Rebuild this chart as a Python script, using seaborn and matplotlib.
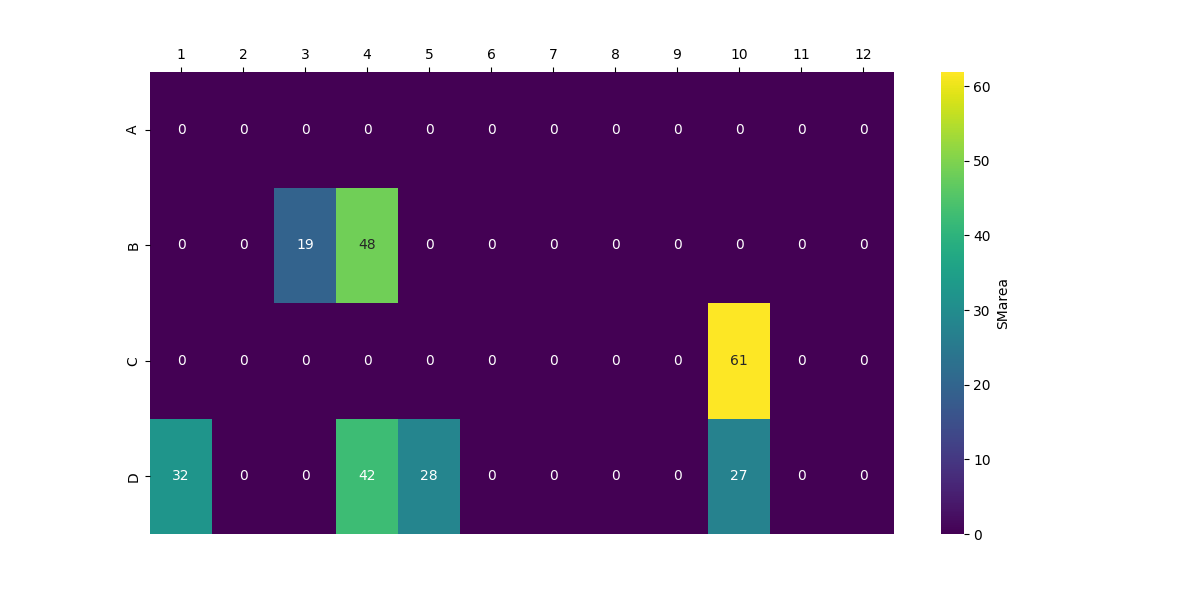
import seaborn as sns
import matplotlib
matplotlib.use("Agg")
import matplotlib.pyplot as plt
import pandas as pd

rows = ['A', 'B', 'C', 'D']
cols = list(range(1, 13))
row_a = [0, 0, 0, 0, 0, 0, 0, 0, 0, 0, 0, 0]
row_b = [0, 0, 19.4, 48.6, 0, 0, 0, 0, 0, 0, 0, 0]
row_c = [0, 0, 0, 0, 0, 0, 0, 0, 0, 61.9, 0, 0]
row_d = [32.3, 0, 0, 42.5, 28.2, 0, 0, 0, 0, 27.4, 0, 0]

df = pd.DataFrame([row_a, row_b, row_c, row_d], index=rows, columns=cols)
labels = df.astype(int)

fig, ax = plt.subplots(figsize=(12, 6), dpi=100)
sns.heatmap(df, ax=ax, cmap='viridis', annot=labels, fmt='d',
            cbar_kws={'label': 'SMarea'})
ax.xaxis.tick_top()
ax.set_xlabel('')
ax.set_ylabel('')
plt.savefig('out.png')
